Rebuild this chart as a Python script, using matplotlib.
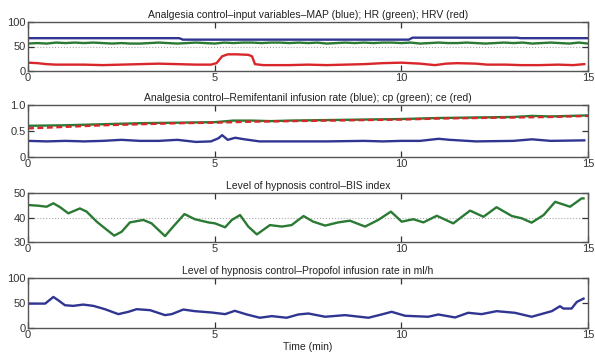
import numpy as np
import matplotlib
matplotlib.use("Agg")
import matplotlib.pyplot as plt

plt.rcParams['font.family'] = ['Liberation Sans Narrow', 'Liberation Sans', 'DejaVu Sans']

# ---------------- data ----------------
# Panel 1: MAP (blue), HR (green), HRV (red)
map_t = [0, 4.05, 4.15, 10.2, 10.3, 13.1, 13.2, 15]
map_v = [67, 67, 64, 64, 68, 68, 67, 67]
hr_v = [56, 57, 56, 58, 57, 58, 57, 58, 57, 56, 57, 56, 56, 57, 58, 57, 56, 57, 58, 57,
        56, 58, 57, 58, 58, 57, 58, 58, 57, 58, 57, 58, 56, 57, 58, 57, 58, 57, 58, 58,
        57, 58, 56, 57, 58, 57, 57, 58, 57, 56, 57, 58, 57, 58, 56, 57, 58, 57, 56, 58, 56]
hrv_t = [0, 0.25, 0.5, 0.75, 1, 1.5, 2, 2.5, 3, 3.5, 4, 4.5, 4.9, 5.05, 5.2, 5.35, 5.6, 5.9,
         6.0, 6.08, 6.3, 7, 7.5, 8, 8.5, 9, 9.5, 10, 10.5, 10.9, 11.2, 11.5, 12, 12.3, 12.8,
         13.2, 13.7, 14.2, 14.6, 14.9]
hrv_v = [17, 16, 14, 13, 13, 13, 12, 13, 14, 15, 14, 13, 13, 16, 30, 34, 34, 33,
         30, 14, 12, 12, 13, 12, 13, 14, 16, 17, 15, 12, 15, 16, 15, 13, 13,
         12, 12, 13, 12, 14]

# Panel 2: infusion rate (blue), cp (green), ce (red)
cp_t = [0, 1, 2, 3, 4, 5, 5.5, 6, 6.5, 7, 8, 9, 10, 11, 12, 13, 13.5, 14, 15]
cp_v = [0.60, 0.61, 0.63, 0.65, 0.66, 0.67, 0.70, 0.70, 0.69, 0.70, 0.71, 0.72, 0.73,
        0.75, 0.76, 0.77, 0.79, 0.78, 0.80]
ce_t = [0, 1, 2, 3, 4, 5, 6, 7, 8, 9, 10, 11, 12, 13, 14, 15]
ce_v = [0.55, 0.58, 0.61, 0.63, 0.65, 0.66, 0.68, 0.69, 0.70, 0.71, 0.72, 0.74, 0.75,
        0.76, 0.77, 0.79]
inf_t = [0, 0.5, 1, 1.5, 2, 2.5, 3, 3.5, 4, 4.5, 4.9, 5.1, 5.2, 5.35, 5.55, 5.8, 6.2,
         7, 8, 9, 9.5, 10, 10.5, 11, 11.3, 12, 13, 13.5, 14, 14.9]
inf_v = [0.31, 0.30, 0.31, 0.30, 0.31, 0.33, 0.31, 0.31, 0.33, 0.29, 0.30, 0.36, 0.42,
         0.33, 0.37, 0.34, 0.30, 0.30, 0.30, 0.31, 0.30, 0.31, 0.31, 0.35, 0.33, 0.30,
         0.31, 0.34, 0.31, 0.32]

# Panel 3: BIS index
bis_t = [0, 0.28, 0.50, 0.68, 0.86, 1.08, 1.39, 1.57, 1.84, 2.06, 2.31, 2.51, 2.73,
         3.09, 3.31, 3.67, 3.89, 4.19, 4.47, 4.83, 5.01, 5.28, 5.46, 5.68, 5.90, 6.13,
         6.48, 6.80, 7.06, 7.38, 7.64, 7.96, 8.31, 8.62, 9.03, 9.38, 9.72, 10.01,
         10.32, 10.59, 10.95, 11.39, 11.84, 12.20, 12.55, 12.96, 13.22, 13.49, 13.81,
         14.12, 14.52, 14.83, 14.88]
bis_v = [45.1, 44.8, 44.4, 45.8, 44.2, 41.7, 43.7, 42.4, 38.3, 35.6, 32.6, 34.2, 38.0,
         39.0, 37.6, 32.4, 36.3, 41.4, 39.3, 38.0, 37.6, 36.0, 39.0, 41.0, 36.3, 33.1,
         36.9, 36.3, 36.9, 40.6, 38.3, 36.7, 38.0, 38.7, 36.3, 39.0, 42.4, 38.3,
         39.3, 38.0, 40.7, 37.6, 42.8, 40.3, 44.2, 40.6, 39.7, 37.9, 41.0,
         46.4, 44.4, 47.8, 47.8]

# Panel 4: Propofol infusion rate
prop_t = [0, 0.46, 0.68, 0.81, 0.99, 1.21, 1.48, 1.75, 2.06, 2.42, 2.69, 2.91, 3.27,
          3.67, 3.85, 4.16, 4.47, 4.92, 5.28, 5.54, 5.86, 6.21, 6.53, 6.93, 7.24, 7.51,
          7.96, 8.49, 9.12, 9.47, 9.74, 10.10, 10.72, 10.99, 11.44, 11.79, 12.15, 12.55,
          13.04, 13.49, 14.03, 14.25, 14.34, 14.56, 14.70, 14.88]
prop_v = [48.3, 48.3, 61.7, 55, 45, 43.7, 46.3, 43.7, 37, 27, 31.7, 37, 35,
          25, 27, 36.3, 33, 30.3, 27, 33.7, 26.3, 19.7, 23, 19.7, 26.3, 28.3,
          21.7, 25, 19.7, 26.3, 31.7, 23.7, 21.7, 26.3, 20.3, 29.7, 27, 33,
          29.7, 21.7, 33, 43, 38.3, 38.3, 51.7, 58.3]

titles = ["Analgesia control\u2013input variables\u2013MAP (blue); HR (green); HRV (red)",
          "Analgesia control\u2013Remifentanil infusion rate (blue); cp (green); ce (red)",
          "Level of hypnosis control\u2013BIS index",
          "Level of hypnosis control\u2013Propofol infusion rate in ml/h"]
xticks = [0, 5, 10, 15]

# ---------------- figure ----------------
fig = plt.figure(figsize=(5.95, 3.6), dpi=100)
W = 595.0
H = 360.0
left = 28 / W
width = 560 / W
boxes = [(22, 71), (105, 157), (193, 242), (278, 327.5)]
ylims = [(0, 100), (0, 1.0), (30, 50), (0, 100)]
yticks = [[0, 50, 100], [0, 0.5, 1.0], [30, 40, 50], [0, 50, 100]]
ylabels = [["0", "50", "100"], ["0", "0.5", "1.0"], ["30", "40", "50"], ["0", "50", "100"]]
refs = [50, None, 40, None]

BLUE = '#2f3591'
GREEN = '#2a7a34'
RED = '#d8262a'

axes = []
for i, (top, bot) in enumerate(boxes):
    ax = fig.add_axes([left, 1 - bot / H, width, (bot - top) / H])
    ax.set_xlim(0, 15)
    ax.set_ylim(*ylims[i])
    ax.set_xticks(xticks)
    ax.set_xticklabels([str(x) for x in xticks])
    ax.set_yticks(yticks[i])
    ax.set_yticklabels(ylabels[i])
    ax.tick_params(direction='in', top=True, right=True, length=4, width=0.9,
                   labelsize=8, pad=1.5, colors='#333333')
    for s in ax.spines.values():
        s.set_color('#555555')
        s.set_linewidth(1.0)
    ax.set_title(titles[i], fontsize=7.5, pad=3, color='#222222')
    if refs[i] is not None:
        ax.axhline(refs[i], color='#aaaaaa', lw=0.8, ls=':', zorder=1)
    axes.append(ax)

lw = 1.7
ax = axes[0]
ax.plot(map_t, map_v, color=BLUE, lw=lw)
ax.plot(np.linspace(0, 15, len(hr_v)), hr_v, color=GREEN, lw=lw)
ax.plot(hrv_t, hrv_v, color=RED, lw=lw)

ax = axes[1]
ax.plot(cp_t, cp_v, color=GREEN, lw=lw)
ax.plot(ce_t, ce_v, color=RED, lw=lw, ls=(0, (2.5, 1.5)))
ax.plot(inf_t, inf_v, color=BLUE, lw=lw)

ax = axes[2]
ax.plot(bis_t, bis_v, color=GREEN, lw=lw, solid_joinstyle='round')

ax = axes[3]
ax.plot(prop_t, prop_v, color=BLUE, lw=lw, solid_joinstyle='round')
ax.set_xlabel("Time (min)", fontsize=7.5, labelpad=2, color='#222222')

fig.savefig("out.png", dpi=100)
